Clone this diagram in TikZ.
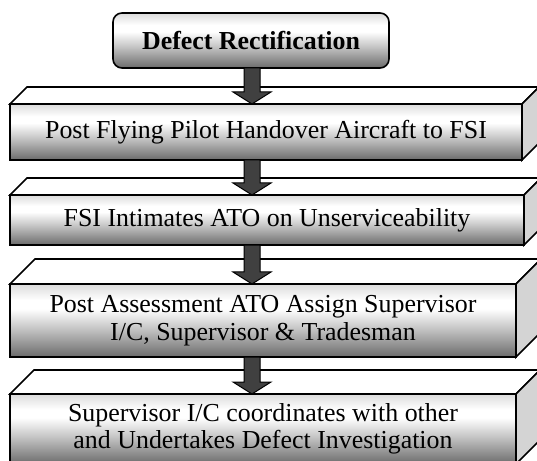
\documentclass[tikz,border=0pt]{standalone}
\usepackage{fontspec}
\setmainfont{Liberation Serif}
\usetikzlibrary{calc}
\pgfdeclareverticalshading{wordgrad}{100bp}{color(0bp)=(black!58); color(25bp)=(black!58); color(45bp)=(black!22); color(58bp)=(white); color(64bp)=(white); color(75bp)=(black!14); color(100bp)=(black!14)}
\newcommand\boxfaces[2]{%
  \draw[topface] (#1.north west) -- ++(#2,-#2) -- ($(#1.north east)+(#2,-#2)$) -- (#1.north east) -- cycle;
  \draw[sideface] (#1.north east) -- ++(#2,-#2) -- ($(#1.south east)+(#2,-#2)$) -- (#1.south east) -- cycle;}
\newcommand\flowarrow[2]{%
  \draw[barrow] ($(ax |- #1.south)+(-8,0)$) -- ($(ax |- #2.north)+(-8,-12)$) -- ($(ax |- #2.north)+(-19,-12)$) -- (ax |- #2.north) -- ($(ax |- #2.north)+(19,-12)$) -- ($(ax |- #2.north)+(8,-12)$) -- ($(ax |- #1.south)+(8,0)$) -- cycle;}
\begin{document}
\begin{tikzpicture}[x=1bp,y=-1bp,
  face/.style={draw=black, line width=1.6bp, inner sep=0pt, outer sep=0pt, shade, shading=wordgrad, font=\fontsize{26}{27.5}\selectfont, align=center, text=black},
  topface/.style={draw=black, line width=1.6bp, fill=white, line join=miter},
  sideface/.style={draw=black, line width=1.6bp, fill=black!17, line join=miter},
  barrow/.style={draw=black, line width=1bp, fill=black!75, line join=miter}]
\useasboundingbox (0,0) rectangle (537,461);
\clip (0,0) rectangle (537,461);
\coordinate (ax) at (252,0);
\node[face, rounded corners=9bp, minimum width=276bp, minimum height=55bp] (t) at (251,40.5) {\bfseries Defect Rectification};
\node[face, minimum width=512bp, minimum height=56bp] (b1) at (266,132) {Post Flying Pilot Handover Aircraft to FSI};
\node[face, minimum width=514bp, minimum height=50bp] (b2) at (267,220) {FSI Intimates ATO on Unserviceability};
\node[face, minimum width=506bp, minimum height=73bp] (b3) at (263,320.5) {Post Assessment ATO Assign Supervisor\\I/C, Supervisor \& Tradesman};
\node[face, minimum width=506bp, minimum height=70bp] (b4) at (263,429) {Supervisor I/C coordinates with other\\and Undertakes Defect Investigation};
\boxfaces{b1}{17}
\boxfaces{b2}{17}
\boxfaces{b3}{25}
\boxfaces{b4}{24}
\flowarrow{t}{b1}
\flowarrow{b1}{b2}
\flowarrow{b2}{b3}
\flowarrow{b3}{b4}
\end{tikzpicture}
\end{document}
